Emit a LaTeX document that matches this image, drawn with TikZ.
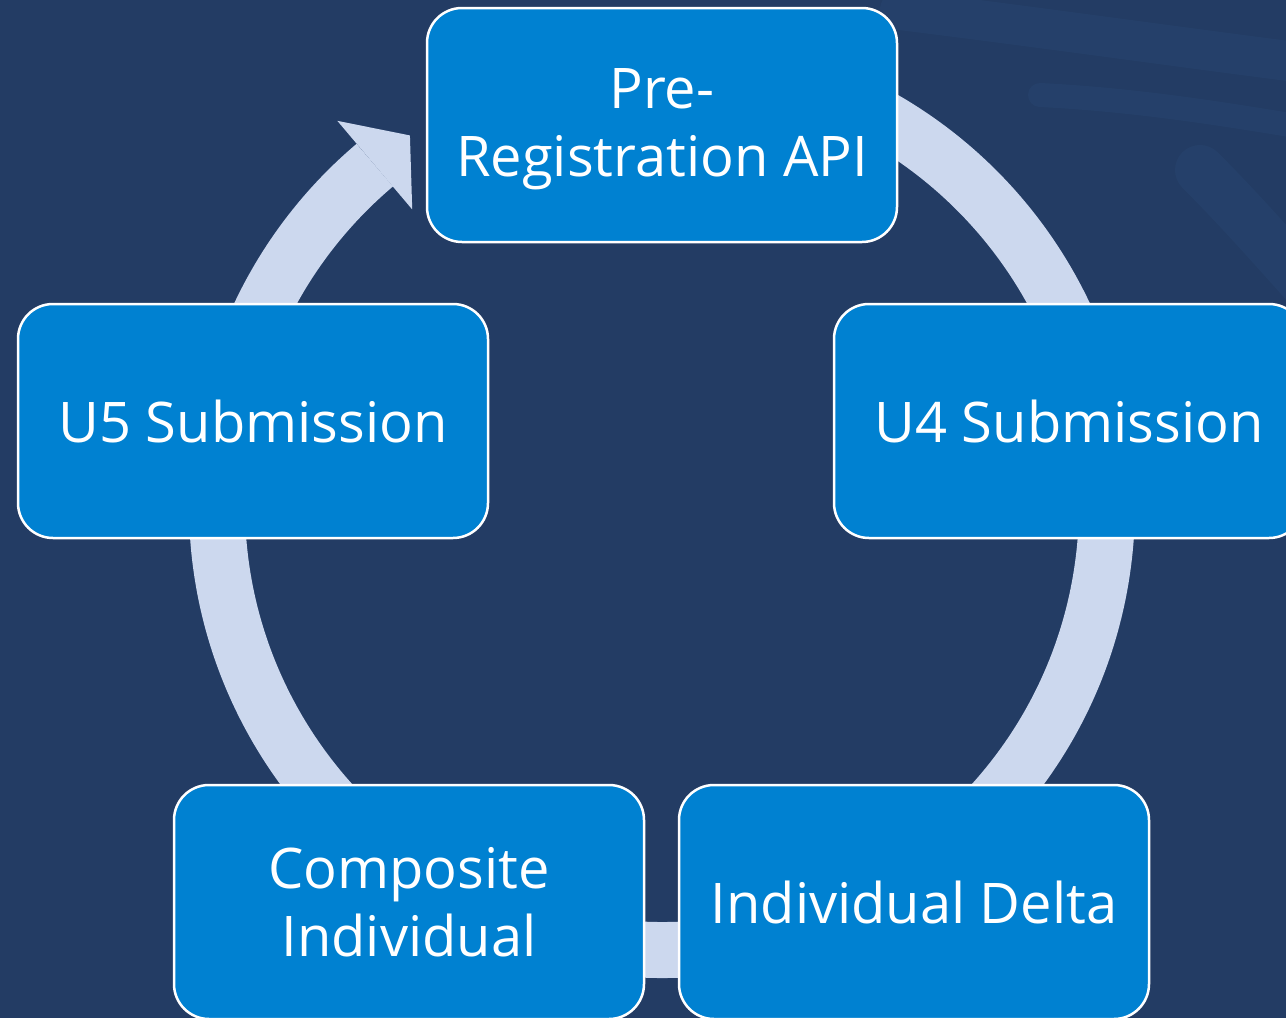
\documentclass[tikz,border=0pt]{standalone}
\usepackage{fontspec}
\setmainfont{Open Sans}
\usepackage{tikz}
\usetikzlibrary{calc}

\definecolor{navy}{RGB}{35,60,100}
\definecolor{haze}{RGB}{48,84,130}
\definecolor{boxblue}{RGB}{0,129,209}
\definecolor{ringblue}{RGB}{204,216,238}

\tikzset{
  stage/.style={draw=white, line width=2.5pt, fill=boxblue, rounded corners=35pt,
    minimum width=470pt, minimum height=234pt, inner sep=0pt,
    text=white, align=center, font=\fontsize{56}{68}\selectfont},
  ring/.style={ringblue, line width=56pt}
}

\begin{document}
\begin{tikzpicture}[x=1pt,y=-1pt]
% Background
\fill[navy] (0,0) rectangle (1286,1018);
\useasboundingbox (0,0) rectangle (1286,1018);
\begin{scope}[haze, line cap=round, opacity=0.2]
  \draw[line width=40pt] (900,10) .. controls (1060,30) and (1200,50) .. (1320,65);
  \draw[line width=24pt] (1040,95) .. controls (1140,100) and (1230,115) .. (1320,130);
  \draw[line width=50pt] (1200,170) .. controls (1240,210) and (1275,250) .. (1320,300);
\end{scope}

% Cycle ring
\coordinate (ctr) at (662,505);
\draw[ring] ($(ctr)+(-85:445)$) arc[start angle=-85, end angle=229.8, radius=445];
\fill[ringblue] ($(ctr)+(229.8:503)$) -- ($(ctr)+(229.8:387)$)
  -- ($(ctr)+(229.8:445)+(319.8:46)$) -- cycle;

% Stages
\foreach \nm/\x/\y/\txt in {pre/662/125/{\rule{0pt}{48pt}Pre-\\Registration API},
    uf/1069/421/{U4 Submission}, delta/914/902/{Individual Delta},
    comp/409/902/{Composite\\Individual}, uv/253/421/{U5 Submission}}
  \node[stage] (\nm) at (\x,\y) {\txt};

\end{tikzpicture}
\end{document}
